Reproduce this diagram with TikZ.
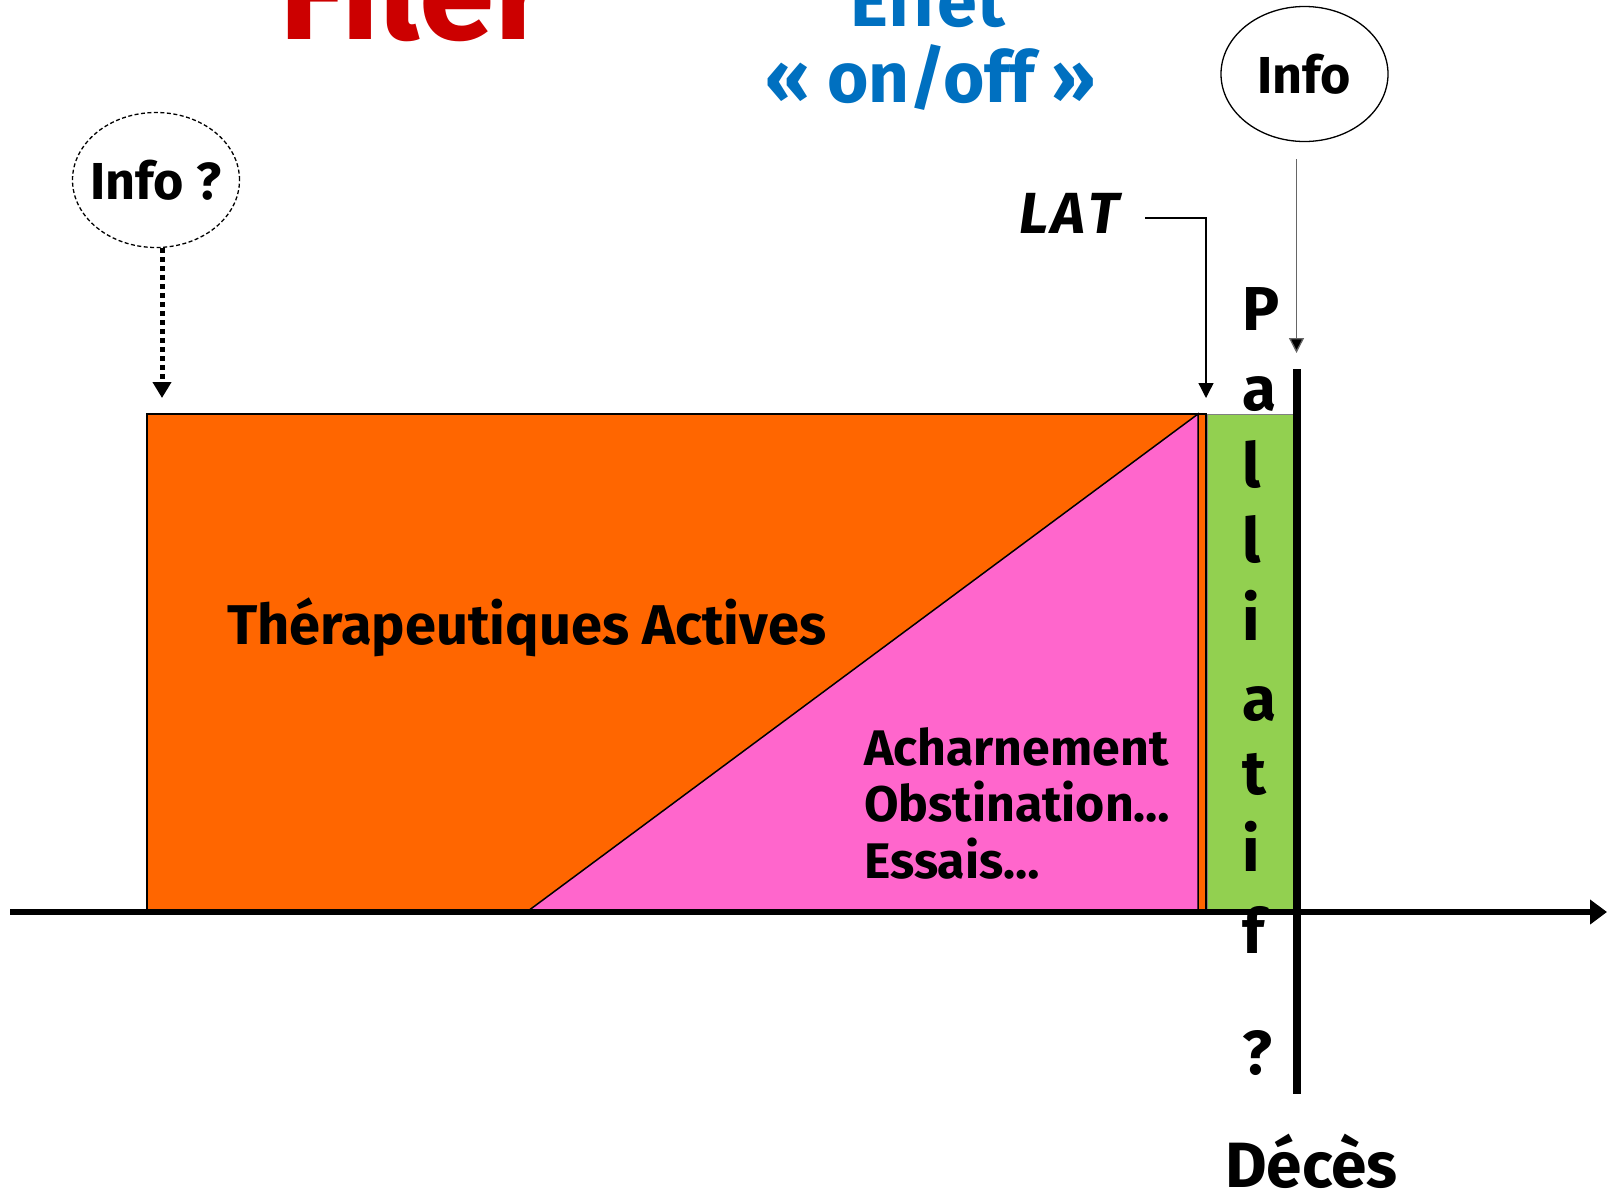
\documentclass[tikz,border=0pt]{standalone}
\usepackage{fontspec}
\setmainfont{Fira Sans}
\usetikzlibrary{arrows.meta,shapes.geometric}
\definecolor{cOrange}{HTML}{FF6600}
\definecolor{cPink}{HTML}{FF66CC}
\definecolor{cGreen}{HTML}{92D050}
\definecolor{cRed}{HTML}{CC0000}
\definecolor{cBlue}{HTML}{0070C0}
\tikzset{
  txt/.style={inner sep=0pt, font=\bfseries},
  fs/.style={font=\bfseries\fontsize{#1}{#1}\selectfont},
  thinarrow/.style={line width=1.3pt, -{Triangle[width=15pt,length=15pt,fill=black]}},
  bubble/.style={ellipse, minimum width=167pt, minimum height=135pt, inner sep=-15pt, line width=1.3pt},
}
\begin{document}
\begin{tikzpicture}[x=1pt,y=-1pt]
\useasboundingbox (0,0) rectangle (1607,1197);
\clip (0,0) rectangle (1607,1197);
% titles
\node[txt, fs=136, text=cRed, anchor=base west] (filer) at (279,39) {Filer};
\node[txt, fs=72, text=cBlue, anchor=base] (effet) at (928,26) {Effet};
\node[txt, fs=71, text=cBlue, anchor=base] (onoff) at (931,102) {« on/off »};
% info bubbles
\node[bubble, draw, fs=52] (info) at (1304.5,74) {Info};
\node[bubble, draw, dash pattern=on 4pt off 2.5pt, fs=52] (infoq) at (156,180) {Info ?};
% blocks
\fill[cOrange, draw=black, line width=1.5pt] (147,414) rectangle (1206,911);
\filldraw[fill=cPink, draw=black, line width=1.5pt] (528,911) -- (1198,414) -- (1198,911) -- cycle;
\filldraw[fill=cGreen, draw=gray, line width=1pt] (1207,414) rectangle (1293,911);
% texts in blocks
\node[txt, fs=56, anchor=base west] (thera) at (227,644) {Thérapeutiques Actives};
\node[txt, fs=50, anchor=base west] (ach1) at (864,765) {Acharnement};
\node[txt, fs=50, anchor=base west] (ach2) at (864,821) {Obstination…};
\node[txt, fs=50, anchor=base west] (ach3) at (864,878) {Essais…};
% axes
\coordinate (axS) at (10,912);
\coordinate (axE) at (1607,912);
\draw[line width=6pt, -{Triangle[width=24pt,length=17pt]}] (axS) -- (axE);
\coordinate (dS) at (1297,369);
\coordinate (dE) at (1297,1094);
\draw[line width=8pt] (dS) -- (dE);
% palliatif
\foreach \ch/\yy [count=\k] in {P/330,a/410,l/487,l/562,i/640,a/720,t/794,i/871,f/953,?/1074}{
  \node[txt, fs=62, anchor=base west] (pal\k) at (1242,\yy) {\ch};
}
\node[txt, fs=64, anchor=base west] (deces) at (1225,1187) {Décès};
% LAT
\node[txt, font=\bfseries\itshape\fontsize{58}{58}\selectfont, anchor=base] (lat) at (1069,233) {L\kern3pt A\kern3pt T};
\coordinate (latS) at (1145,218);
\coordinate (latT) at (1206,398);
\draw[thinarrow] (latS) -| (latT);
% info arrows
\coordinate (infoT) at (1296.5,353);
\coordinate (infoS) at (1296.5,159);
\draw[thinarrow, draw=gray!80!black] (infoS) -- (infoT);
\coordinate (dtip) at (162,398);
\draw[line width=5pt, dash pattern=on 5pt off 4pt, -{Triangle[width=18pt,length=16pt]}] (dtip |- infoq.south) -- (dtip);
\end{tikzpicture}
\end{document}
